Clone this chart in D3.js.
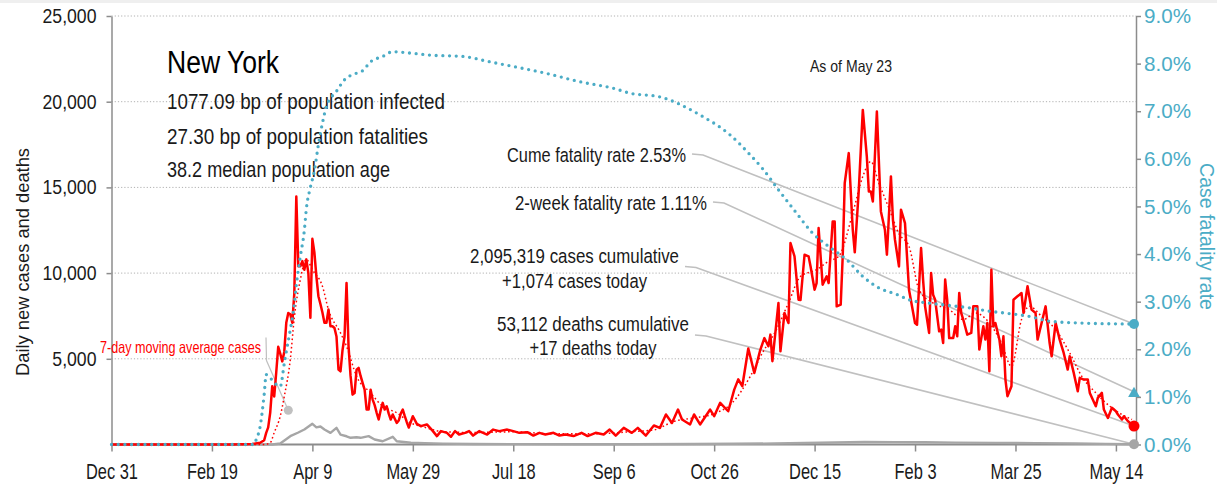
<!DOCTYPE html>
<html><head><meta charset="utf-8">
<script src="https://cdn.jsdelivr.net/npm/d3@7"></script>
<style>
html,body{margin:0;padding:0;background:#fff;}
svg{display:block;}
text{font-family:"Liberation Sans Narrow","Arial Narrow","Liberation Sans",Arial,sans-serif;}
</style></head><body>
<svg id="chart" width="1217" height="484"></svg>
<script>
// ---------- DATA (day offsets from 2019-12-31) ----------
const startDate = Date.UTC(2019, 11, 31);
const lastDay = 509; // May 23, 2021
const cases = [[0,0],[60,0],[70,30],[74,100],[76,250],[77,680],[78,1000],[79,1850],[80,3400],[81,2800],[82,4200],[83,5700],[84,5300],[85,4850],[86,5400],[87,7100],[88,7670],[89,7600],[90,7100],[91,8800],[92,14470],[93,10400],[94,10400],[95,10700],[96,10200],[97,10800],[98,10000],[99,7400],[100,12000],[101,11200],[102,9800],[103,8650],[104,8200],[105,7700],[106,7100],[107,7100],[108,7870],[109,6900],[110,6900],[111,6800],[112,6300],[113,4370],[114,4270],[115,5500],[116,6300],[117,9420],[118,5730],[119,4000],[120,2910],[121,3000],[122,4370],[123,4470],[124,4000],[125,3600],[126,3200],[127,2040],[128,2040],[129,3200],[130,2620],[131,2300],[132,1850],[133,1460],[134,2000],[135,2430],[136,2040],[137,2230],[138,1800],[139,1460],[140,1750],[141,1500],[142,1260],[143,1400],[144,1800],[145,2040],[146,1650],[147,1300],[148,990],[150,1650],[152,1200],[154,1070],[157,1170],[160,780],[162,490],[164,780],[167,680],[169,450],[171,780],[173,580],[176,680],[178,780],[180,520],[183,780],[187,580],[190,870],[193,780],[197,870],[200,780],[203,680],[207,720],[210,520],[213,680],[216,580],[220,680],[223,520],[226,580],[230,490],[234,680],[237,490],[241,680],[245,580],[248,870],[251,520],[255,970],[259,680],[262,970],[266,520],[270,1110],[273,970],[276,1750],[279,1260],[282,2040],[284,1460],[288,1170],[290,1750],[293,1170],[298,2040],[300,1650],[303,2430],[307,1940],[310,3200],[312,3800],[314,3400],[317,5600],[320,4170],[323,5540],[325,6210],[327,5730],[328,6410],[329,4860],[332,8250],[333,5440],[335,7670],[337,7090],[338,11750],[340,10980],[342,8450],[343,8430],[345,11070],[347,10980],[348,10390],[350,9030],[351,9420],[352,12630],[354,9320],[356,9810],[357,9420],[359,13010],[360,13010],[361,8060],[363,8160],[364,10980],[365,15250],[367,17000],[369,12530],[370,11210],[372,14860],[374,19520],[376,16800],[377,14760],[378,14760],[379,14180],[381,19430],[383,13600],[385,12530],[386,11070],[388,15640],[389,13110],[390,11950],[392,10390],[393,13700],[395,12920],[397,9030],[400,7090],[401,6990],[403,11460],[404,9620],[405,8060],[407,6510],[408,10000],[409,8740],[410,8450],[412,6600],[413,6700],[414,5920],[415,9620],[416,8450],[417,6210],[419,6210],[420,6900],[421,6310],[422,8840],[423,7670],[424,7290],[426,6410],[428,6510],[429,8060],[431,8060],[432,5540],[434,6900],[435,6120],[436,7090],[437,4270],[438,10200],[439,6900],[440,7090],[442,6120],[443,5150],[444,6310],[445,3790],[446,2820],[448,3400],[449,8450],[451,8645],[452,8740],[453,8840],[454,7670],[456,9230],[458,7870],[460,7670],[461,6120],[463,7090],[465,8060],[467,5920],[468,5150],[470,7090],[472,6120],[474,5340],[476,4370],[477,5150],[479,4180],[481,3110],[482,3890],[484,3790],[486,3790],[487,3010],[490,2230],[491,2720],[493,3010],[494,2040],[496,1550],[498,2140],[500,1940],[501,1750],[503,1460],[504,1650],[506,1360],[508,1170],[509,1074]];
const casesAvg7 = [[0,0],[76,0],[79,100],[81,700],[84,1650],[86,2800],[89,4950],[91,7400],[94,9620],[97,10800],[100,10200],[105,9230],[108,7870],[114,6510],[117,5730],[122,3980],[129,3010],[135,2230],[142,1850],[149,1260],[156,1000],[165,750],[180,700],[200,740],[220,620],[240,620],[260,760],[270,850],[280,1350],[290,1550],[300,1800],[309,2430],[318,3980],[324,5340],[331,6700],[337,8260],[343,9810],[351,10200],[357,10690],[362,10980],[369,13500],[374,15640],[378,16510],[382,15250],[387,13790],[392,12300],[397,11560],[402,9030],[409,8250],[417,7870],[424,7290],[430,7670],[437,7090],[443,5920],[448,4560],[453,7290],[457,8060],[463,7480],[470,6700],[477,5340],[483,3980],[490,3010],[497,2230],[503,1750],[508,1460]];
const deaths = [[0,0],[80,0],[84,60],[89,485],[93,700],[96,874],[100,1205],[102,1000],[104,1050],[106,875],[109,680],[112,970],[114,580],[117,480],[119,390],[122,420],[124,390],[128,490],[131,290],[135,190],[140,450],[142,190],[149,100],[156,80],[165,50],[180,30],[200,20],[230,15],[260,15],[290,25],[310,40],[330,60],[345,90],[360,120],[375,150],[390,140],[405,130],[420,110],[440,95],[460,80],[480,55],[495,35],[509,17]];
const fatalityRate = [[0,0],[71,0],[72,0.1],[74,0.38],[76,1.05],[77,1.47],[79,1.40],[81,1.30],[84,1.22],[86,1.70],[87,1.95],[89,2.41],[91,2.95],[92,3.35],[94,3.95],[96,4.5],[97,4.95],[99,5.4],[101,5.75],[103,6.3],[105,6.75],[107,7.1],[112,7.42],[116,7.66],[122,7.8],[125,7.85],[129,8.04],[135,8.15],[140,8.25],[149,8.22],[158,8.18],[175,8.15],[188,8.04],[200,7.94],[216,7.8],[233,7.62],[250,7.48],[258,7.38],[273,7.3],[293,6.92],[308,6.5],[318,6.08],[324,5.8],[332,5.35],[341,4.86],[349,4.44],[357,4.16],[366,3.88],[374,3.53],[382,3.29],[391,3.15],[397,3.04],[407,2.97],[417,2.92],[427,2.87],[437,2.8],[447,2.75],[457,2.69],[467,2.59],[483,2.55],[509,2.53]];
const leftTicks = [5000, 10000, 15000, 20000, 25000];
const rightTicks = [0,1,2,3,4,5,6,7,8,9];
const xTickDays = [0,50,100,150,200,250,300,350,400,450,500];
const titleText = "New York";
const statLines = ["1077.09 bp of population infected", "27.30 bp of population fatalities", "38.2 median population age"];
const asOfText = "As of May 23";
const cumeRate = 2.53, twoWeekRate = 1.11, casesToday = 1074, deathsToday = 17;
const annotations = [
  {lines:["Cume fatality rate 2.53%"], key:"cume"},
  {lines:["2-week fatality rate 1.11%"], key:"twoweek"},
  {lines:["2,095,319 cases cumulative", "+1,074 cases today"], key:"cases"},
  {lines:["53,112 deaths cumulative", "+17 deaths today"], key:"deaths"}
];
const legendLabel = "7-day moving average cases";
const legendPoint = [88, 2000];

// ---------- CHART ----------
const W = 1217, H = 484;
const red = "#ff0000", teal = "#4bacc6", deathGray = "#a6a6a6", axisGray = "#8c8c8c", leaderGray = "#c0c0c0", ink = "#1a1a1a";
const day = d => d3.utcDay.offset(new Date(startDate), d);
const x = d3.scaleUtc().domain([day(0), day(lastDay)]).range([111.5, 1134]);
const y = d3.scaleLinear().domain([0, 25000]).range([444.5, 16]);
const yR = d3.scaleLinear().domain([0, 9]).range([444.5, 16]);
const rightAxisX = 1136;

const svg = d3.select("#chart");
svg.append("rect").attr("width", W).attr("height", 3).attr("fill", "#efefef");

function fit(sel, w) { sel.attr("textLength", w).attr("lengthAdjust", "spacingAndGlyphs"); }
function fitGroup(sel, refNode, refWidth) {
  const k = refWidth / refNode.getComputedTextLength();
  sel.each(function(){ const w = this.getComputedTextLength(); d3.select(this).attr("textLength", w * k).attr("lengthAdjust", "spacingAndGlyphs"); });
}

// gridlines
svg.append("g").selectAll("line").data(leftTicks).join("line")
  .attr("x1", x.range()[0]).attr("x2", rightAxisX)
  .attr("y1", d => y(d)).attr("y2", d => y(d))
  .attr("stroke", "#b0b0b0").attr("stroke-width", 1).attr("stroke-dasharray", "1.2 2");

// left axis
const gL = svg.append("g").attr("transform", `translate(${x.range()[0]},0)`)
  .call(d3.axisLeft(y).tickValues(leftTicks).tickFormat(d3.format(",")).tickSize(5).tickSizeOuter(0).tickPadding(10));
gL.select(".domain").attr("stroke", axisGray).attr("stroke-width", 1.5);
gL.selectAll(".tick line").attr("stroke", axisGray).attr("stroke-width", 1.5);
const lt = gL.selectAll(".tick text").attr("font-size", 20.5).attr("fill", ink).attr("font-family", null);
fitGroup(lt, lt.nodes()[lt.size()-1], 54);

// bottom axis
const gB = svg.append("g").attr("transform", `translate(0,${y(0)})`)
  .call(d3.axisBottom(x).tickValues(xTickDays.map(day)).tickFormat(d3.utcFormat("%b %-d")).tickSize(7).tickSizeOuter(0).tickPadding(12));
gB.select(".domain").attr("stroke", axisGray).attr("stroke-width", 2.2).attr("d", `M${x.range()[0]},0H${rightAxisX}`);
gB.selectAll(".tick line").attr("stroke", axisGray).attr("stroke-width", 1.5);
const bt = gB.selectAll(".tick text").attr("font-size", 21.5).attr("fill", ink).attr("font-family", null);
fitGroup(bt, bt.nodes()[0], 52);

// right axis
const gR = svg.append("g").attr("transform", `translate(${rightAxisX},0)`)
  .call(d3.axisRight(yR).tickValues(rightTicks).tickFormat(d => d.toFixed(1) + "%").tickSize(5).tickSizeOuter(0).tickPadding(3));
gR.select(".domain").attr("stroke", axisGray).attr("stroke-width", 1.5);
gR.selectAll(".tick line").attr("stroke", axisGray).attr("stroke-width", 1.5);
const rt = gR.selectAll(".tick text").attr("font-size", 20.5).attr("fill", teal).attr("font-family", null);
fitGroup(rt, rt.nodes()[rt.size()-1], 47);

// axis titles
svg.append("text").attr("transform", "translate(28.5,262) rotate(-90)").attr("text-anchor", "middle")
  .attr("font-size", 19).attr("fill", ink).text("Daily new cases and deaths").call(fit, 228);
svg.append("text").attr("transform", "translate(1199.5,236.5) rotate(90)").attr("text-anchor", "middle")
  .attr("font-size", 20).attr("fill", teal).text("Case fatality rate").call(fit, 147);

// title block
svg.append("text").attr("x", 167).attr("y", 73).attr("font-size", 31).attr("fill", "#000").text(titleText).call(fit, 112);
const statW = [278, 261, 223], statY = [108.5, 143.5, 177];
statLines.forEach((s, i) => svg.append("text").attr("x", 167).attr("y", statY[i]).attr("font-size", 22).attr("fill", ink).text(s).call(fit, statW[i]));
svg.append("text").attr("x", 810).attr("y", 72).attr("font-size", 16.5).attr("fill", ink).text(asOfText).call(fit, 82);

// end-point targets
const xEnd = x(day(lastDay));
const targets = {
  cume: [xEnd, yR(cumeRate)],
  twoweek: [xEnd, yR(twoWeekRate)],
  cases: [xEnd, y(casesToday)],
  deaths: [xEnd, y(deathsToday)]
};
// annotation text + leaders
const annoLayout = {
  cume:   {xr: 686, ys: [161.7], w: [179], ly: 154},
  twoweek:{xr: 707, ys: [210], w: [192], ly: 202},
  cases:  {xr: 679, ys: [262.7, 288.3], w: [209, 145], ly: 266.5},
  deaths: {xr: 689, ys: [330.7, 355], w: [192, 127], ly: 335}
};
const gLead = svg.append("g");
annotations.forEach(a => {
  const L = annoLayout[a.key];
  const cx = L.xr - L.w[0] / 2;
  a.lines.forEach((t, i) => {
    svg.append("text").attr("x", i === 0 ? L.xr : cx).attr("y", L.ys[i])
      .attr("text-anchor", i === 0 ? "end" : "middle").attr("font-size", 20.5).attr("fill", ink)
      .text(t).call(fit, L.w[i]);
  });
  const t = targets[a.key];
  gLead.append("path").attr("fill", "none").attr("stroke", leaderGray).attr("stroke-width", 1.6)
    .attr("d", d3.line()([[L.xr + 6, L.ly], [L.xr + 17, L.ly + 1], t]));
});

// legend label for moving average
const lgX = 261, lgY = 352.5;
svg.append("text").attr("x", lgX).attr("y", lgY).attr("text-anchor", "end").attr("font-size", 16.5)
  .attr("fill", red).text(legendLabel).call(fit, 161);
const lp = [x(day(legendPoint[0])), y(legendPoint[1])];
gLead.append("path").attr("fill", "none").attr("stroke", leaderGray).attr("stroke-width", 1.2)
  .attr("d", d3.line()([[lgX + 5, lgY - 15], [lgX + 5.5, lgY + 8], lp]));
svg.append("circle").attr("cx", lp[0]).attr("cy", lp[1]).attr("r", 4.5).attr("fill", "#c0c0c0");

// series
const line = (ys) => d3.line().x(d => x(day(d[0]))).y(d => ys(d[1]));
svg.append("path").datum(deaths).attr("fill", "none").attr("stroke", deathGray).attr("stroke-width", 2.4)
  .attr("stroke-linejoin", "round").attr("d", line(y));
svg.append("path").datum(cases).attr("fill", "none").attr("stroke", red).attr("stroke-width", 2.5)
  .attr("stroke-linejoin", "round").attr("d", line(y));
svg.append("path").datum(casesAvg7).attr("fill", "none").attr("stroke", red).attr("stroke-width", 1.5)
  .attr("stroke-dasharray", "1.6 2.6").attr("d", d3.line().curve(d3.curveMonotoneX).x(d => x(day(d[0]))).y(d => y(d[1])));
svg.append("path").datum(fatalityRate).attr("fill", "none").attr("stroke", teal).attr("stroke-width", 3.3)
  .attr("stroke-linecap", "round").attr("stroke-dasharray", "0 6.7")
  .attr("d", d3.line().curve(d3.curveMonotoneX).x(d => x(day(d[0]))).y(d => yR(d[1])));

// end markers
svg.append("circle").attr("cx", targets.cume[0]).attr("cy", targets.cume[1]).attr("r", 5).attr("fill", teal);
svg.append("path").attr("transform", `translate(${targets.twoweek[0]},${targets.twoweek[1] + 2})`)
  .attr("d", d3.symbol(d3.symbolTriangle, 60)()).attr("fill", teal);
svg.append("circle").attr("cx", targets.cases[0]).attr("cy", targets.cases[1]).attr("r", 5.5).attr("fill", red);
svg.append("circle").attr("cx", targets.deaths[0]).attr("cy", targets.deaths[1]).attr("r", 5).attr("fill", deathGray);
</script>
</body></html>
